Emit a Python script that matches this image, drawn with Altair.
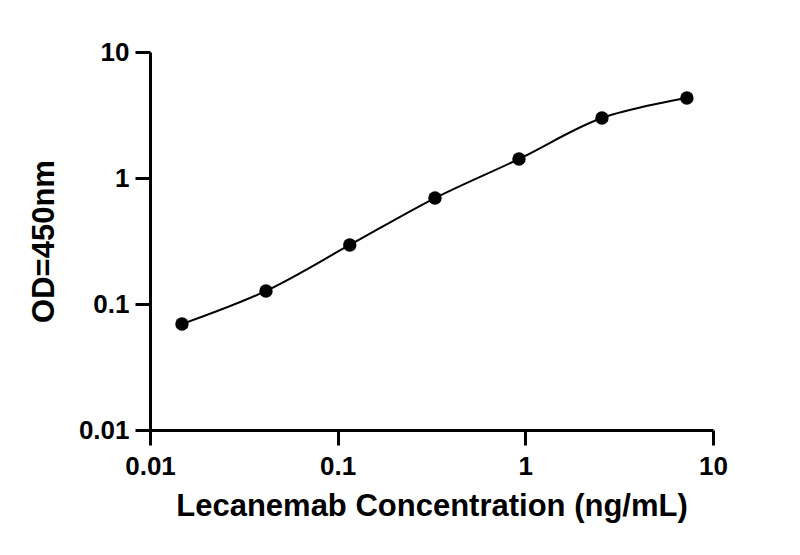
import altair as alt
import pandas as pd

# Standard curve
conc = [0.0148, 0.0415, 0.116, 0.33, 0.925, 2.56, 7.26]   # ng/mL
od = [0.0693, 0.127, 0.294, 0.693, 1.415, 2.99, 4.31]     # OD 450nm
ticks = [0.01, 0.1, 1, 10]

data = pd.DataFrame({"conc": conc, "od": od})

font = "Liberation Sans"


def log_axis(title_pad, label_pad):
    return alt.Axis(
        values=ticks, format="~g", grid=False,
        domainColor="black", domainWidth=3,
        tickColor="black", tickWidth=3, tickSize=15,
        labelFont=font, labelFontSize=26, labelFontWeight="bold", labelColor="black",
        labelPadding=label_pad, labelFlush=False,
        titleFont=font, titleFontSize=31, titleFontWeight="bold", titleColor="black",
        titlePadding=title_pad,
    )


x = alt.X(
    "conc:Q",
    title="Lecanemab Concentration (ng/mL)",
    scale=alt.Scale(type="log", domain=[0.01, 10]),
    axis=log_axis(12, 8),
)
y = alt.Y(
    "od:Q",
    title="OD=450nm",
    scale=alt.Scale(type="log", domain=[0.01, 10]),
    axis=log_axis(18, 6),
)

base = alt.Chart(data).encode(x=x, y=y)

curve = base.mark_line(interpolate="catmull-rom", color="black", strokeWidth=2)
dots = base.mark_circle(size=180, color="black", opacity=1)

chart = (curve + dots).properties(
    width=563,
    height=378,
    autosize=alt.AutoSizeParams(type="none"),
    padding={"left": 142, "top": 44, "right": 79, "bottom": 117},
).configure_view(stroke=None)

chart.save("out.html", embed_options={"renderer": "svg", "actions": False})
